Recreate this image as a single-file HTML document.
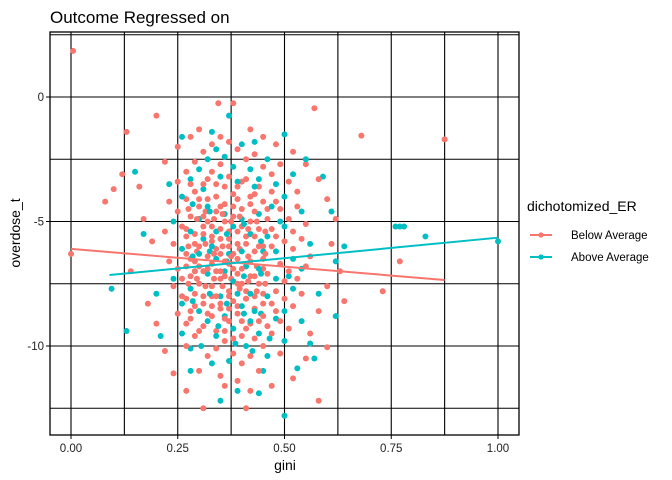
<!DOCTYPE html>
<html><head><meta charset="utf-8"><style>
body{margin:0;background:#fff;}
svg{display:block;font-family:"Liberation Sans",Arial,sans-serif;}
</style></head><body>
<svg id="chart" width="672" height="480">
<text x="50" y="23" font-size="17" fill="#000">Outcome Regressed on</text>
<g id="grid"></g>
<g id="pts"></g>
<g id="lines"></g>
<rect x="50" y="32" width="469" height="403" fill="none" stroke="#000" stroke-width="1.3"/>
<g id="axes"></g>
<text x="285" y="470" font-size="14" text-anchor="middle">gini</text>
<text transform="translate(20,233) rotate(-90)" font-size="14" text-anchor="middle">overdose_t</text>
<g>
<text x="527" y="211" font-size="14">dichotomized_ER</text>
<g><line x1="530" y1="235" x2="552" y2="235" stroke="#F8766D" stroke-width="2"/><circle cx="541" cy="235" r="2.6" fill="#F8766D"/><text x="571" y="239" font-size="11.5">Below Average</text></g>
<g><line x1="530" y1="257" x2="552" y2="257" stroke="#00BFC4" stroke-width="2"/><circle cx="541" cy="257" r="2.6" fill="#00BFC4"/><text x="571" y="261" font-size="11.5">Above Average</text></g>
</g>
</svg>
<script>
const xTicks=[0,0.25,0.5,0.75,1.0];
const xTickLabels=["0.00","0.25","0.50","0.75","1.00"];
const yTicks=[0,-5,-10];
const yTickLabels=["0","-5","-10"];
const yGrid=[2.5,0,-2.5,-5,-7.5,-10,-12.5];
const xGrid=[0,0.125,0.25,0.375,0.5,0.625,0.75,0.875,1.0];
const belowData=[[0.005,1.85],[0.0,-6.3],[0.13,-1.4],[0.2,-0.75],[0.08,-4.2],[0.10,-3.7],[0.12,-3.1],[0.875,-1.7],[0.68,-1.55],[0.57,-0.45],[0.73,-7.8],[0.77,-6.6],[0.64,-8.2],[0.6,-10.05],[0.58,-12.2],[0.31,-12.5],[0.41,-12.5],[0.38,-0.25],[0.345,-0.25],[0.16,-3.6],[0.17,-4.9],[0.19,-5.8],[0.14,-7.0],[0.18,-8.3],[0.2,-9.1],[0.22,-10.2],[0.24,-11.1],[0.27,-11.8],[0.22,-2.6],[0.25,-2.0],[0.28,-1.6],[0.30,-1.3],[0.42,-1.3],[0.45,-1.6],[0.48,-1.9],[0.52,-2.2],[0.55,-2.7],[0.58,-3.3],[0.6,-4.1],[0.62,-4.9],[0.61,-5.9],[0.63,-7.0],[0.6,-7.6],[0.58,-8.6],[0.56,-9.5],[0.55,-10.5],[0.52,-11.3],[0.47,-11.6],[0.42,-11.8],[0.36,-11.6],[0.3,-11.0],
[0.25,-3.4],[0.27,-3.0],[0.29,-2.6],[0.31,-2.2],[0.33,-1.9],[0.35,-1.6],[0.37,-1.8],[0.39,-2.1],[0.41,-2.5],[0.43,-2.3],[0.45,-2.8],[0.47,-3.1],[0.49,-2.7],[0.51,-3.4],[0.53,-3.8],[0.23,-4.2],[0.25,-4.6],[0.27,-4.1],[0.29,-3.8],[0.31,-3.5],[0.33,-3.0],[0.35,-2.7],[0.37,-3.2],[0.39,-3.6],[0.41,-3.3],[0.43,-3.9],[0.45,-4.2],[0.47,-3.8],[0.49,-4.5],[0.51,-4.9],[0.53,-4.4],[0.55,-5.1],[0.22,-5.4],[0.24,-5.9],[0.26,-5.2],[0.28,-4.8],[0.3,-4.4],[0.32,-4.1],[0.34,-4.6],[0.36,-4.3],[0.38,-4.8],[0.4,-4.5],[0.42,-5.0],[0.44,-5.3],[0.46,-4.9],[0.48,-5.6],[0.5,-5.8],[0.52,-6.1],[0.54,-5.7],[0.56,-6.4],[0.23,-6.6],[0.25,-6.9],[0.27,-6.3],[0.29,-5.9],[0.31,-5.5],[0.33,-5.2],[0.35,-5.7],[0.37,-5.4],[0.39,-5.9],[0.41,-5.6],[0.43,-6.2],[0.45,-6.5],[0.47,-6.0],[0.49,-6.7],[0.51,-7.0],[0.53,-7.3],[0.55,-6.8],[0.24,-7.6],[0.26,-8.0],[0.28,-7.2],[0.3,-6.8],[0.32,-6.4],[0.34,-6.1],[0.36,-6.6],[0.38,-6.3],[0.4,-6.9],[0.42,-7.2],[0.44,-7.5],[0.46,-7.1],[0.48,-7.8],[0.5,-8.1],[0.52,-8.4],[0.54,-7.9],[0.25,-8.7],[0.27,-9.1],[0.29,-8.4],[0.31,-8.0],[0.33,-7.6],[0.35,-7.3],[0.37,-7.8],[0.39,-7.5],[0.41,-8.1],[0.43,-8.5],[0.45,-8.8],[0.47,-8.3],[0.49,-9.0],[0.51,-9.3],[0.27,-10.0],[0.29,-9.6],[0.31,-9.2],[0.33,-8.8],[0.35,-8.5],[0.37,-9.0],[0.39,-8.7],[0.41,-9.3],[0.43,-9.7],[0.45,-10.0],[0.47,-9.5],[0.49,-10.3],[0.32,-10.4],[0.34,-10.1],[0.36,-9.8],[0.38,-10.3],[0.40,-10.7],[0.42,-10.4],[0.44,-11.0],[0.35,-11.2],[0.39,-11.4],
[0.30,-6.0],[0.32,-6.9],[0.34,-7.0],[0.36,-7.2],[0.38,-6.9],[0.33,-5.8],[0.35,-6.3],[0.37,-6.0],[0.39,-6.5],[0.4,-7.5],[0.3,-7.5],[0.32,-5.0],[0.36,-5.0],[0.4,-5.2],[0.34,-8.0],[0.38,-8.2],[0.42,-6.6],[0.28,-6.5],[0.26,-7.3],[0.44,-6.0],[0.31,-4.8],[0.35,-4.4],[0.39,-4.1],[0.43,-4.6],[0.29,-7.0],[0.33,-8.4],[0.37,-8.5],[0.41,-7.8],[0.45,-7.9],[0.27,-5.6],[0.47,-5.3],[0.34,-3.5],[0.38,-3.9],[0.42,-4.0],[0.36,-9.4],[0.4,-9.6],[0.28,-8.9],[0.46,-9.2],[0.5,-7.4],[0.48,-4.2],[0.52,-5.4],
[0.275,-4.5],[0.295,-4.9],[0.315,-4.6],[0.335,-4.9],[0.355,-4.7],[0.375,-5.0],[0.395,-4.8],[0.415,-5.3],[0.435,-5.0],[0.455,-5.4],
[0.27,-5.3],[0.29,-5.5],[0.31,-5.2],[0.33,-5.6],[0.35,-5.3],[0.37,-5.7],[0.39,-5.4],[0.41,-5.9],[0.43,-5.6],[0.45,-6.0],
[0.275,-6.0],[0.295,-6.2],[0.315,-5.9],[0.335,-6.3],[0.355,-6.0],[0.375,-6.4],[0.395,-6.1],[0.415,-6.4],[0.435,-6.8],[0.455,-6.3],
[0.27,-6.8],[0.29,-6.6],[0.31,-7.0],[0.33,-6.7],[0.35,-7.0],[0.37,-6.7],[0.39,-7.1],[0.41,-6.8],[0.43,-7.2],[0.45,-6.9],
[0.275,-7.5],[0.295,-7.3],[0.315,-7.6],[0.335,-7.3],[0.355,-7.6],[0.375,-7.3],[0.395,-7.7],[0.415,-7.4],[0.435,-7.8],[0.455,-7.5],
[0.27,-8.1],[0.29,-7.9],[0.31,-8.3],[0.33,-8.0],[0.35,-8.3],[0.37,-8.0],[0.39,-8.4],[0.41,-8.1],[0.43,-8.0],[0.45,-8.3],
[0.28,-3.5],[0.32,-3.3],[0.36,-3.6],[0.40,-3.4],[0.44,-3.6],[0.30,-4.1],[0.34,-4.0],[0.38,-4.4],[0.42,-4.3],[0.46,-4.5],
[0.28,-8.6],[0.32,-8.7],[0.36,-8.9],[0.40,-9.0],[0.44,-9.0],[0.30,-9.4],[0.34,-9.4],[0.38,-9.7],[0.42,-9.1],[0.48,-8.6]];
const aboveData=[[1.0,-5.8],[0.76,-5.2],[0.77,-5.2],[0.78,-5.2],[0.83,-5.6],[0.095,-7.7],[0.13,-9.4],[0.15,-3.0],[0.37,-0.75],[0.5,-12.8],[0.64,-6.0],[0.62,-8.8],[0.57,-10.5],[0.56,-9.9],[0.17,-5.5],[0.2,-7.9],[0.21,-9.6],[0.23,-3.5],[0.26,-1.6],[0.33,-1.4],[0.43,-1.8],[0.5,-1.5],[0.55,-2.5],[0.59,-3.2],[0.61,-4.6],[0.62,-6.6],[0.58,-7.9],[0.53,-10.9],[0.44,-11.9],[0.35,-12.2],[0.28,-11.0],
[0.26,-4.0],[0.28,-3.3],[0.3,-2.9],[0.32,-2.5],[0.34,-2.1],[0.36,-2.4],[0.38,-2.8],[0.4,-1.9],[0.42,-2.9],[0.44,-3.3],[0.46,-2.5],[0.48,-3.5],[0.5,-4.0],[0.52,-3.1],[0.54,-4.6],[0.24,-5.0],[0.26,-6.1],[0.28,-5.4],[0.3,-4.9],[0.32,-4.4],[0.34,-5.4],[0.36,-4.7],[0.38,-5.2],[0.4,-4.9],[0.42,-5.5],[0.44,-4.7],[0.46,-5.6],[0.48,-6.2],[0.5,-5.2],[0.52,-6.5],[0.54,-6.9],[0.56,-5.9],[0.24,-7.3],[0.26,-8.3],[0.28,-7.7],[0.3,-6.3],[0.32,-7.1],[0.34,-6.5],[0.36,-7.0],[0.38,-7.4],[0.4,-6.2],[0.42,-7.9],[0.44,-6.9],[0.46,-8.0],[0.48,-7.3],[0.5,-8.6],[0.52,-7.7],[0.54,-9.0],[0.26,-9.5],[0.28,-10.1],[0.3,-8.6],[0.32,-9.0],[0.34,-9.6],[0.36,-8.8],[0.38,-9.3],[0.4,-8.4],[0.42,-9.0],[0.44,-9.5],[0.46,-10.4],[0.48,-8.9],[0.5,-9.8],[0.33,-10.7],[0.37,-10.6],[0.41,-10.0],[0.45,-11.0],[0.39,-11.8],[0.31,-3.7],[0.35,-3.2],[0.39,-3.4],[0.43,-3.6],[0.47,-4.4],[0.33,-6.0],[0.37,-6.3],[0.41,-6.8],[0.45,-6.2],[0.35,-8.0],[0.39,-7.9],[0.43,-8.6],[0.29,-7.0],[0.31,-5.7],[0.49,-5.0],[0.51,-7.2],
[0.285,-4.3],[0.325,-4.6],[0.365,-5.5],[0.405,-5.1],[0.445,-5.8],[0.285,-6.4],[0.325,-6.2],[0.365,-6.6],[0.405,-7.2],[0.445,-7.1],[0.285,-8.2],[0.325,-7.9],[0.365,-8.3],[0.405,-8.7],[0.445,-8.7],[0.305,-10.0],[0.345,-9.2],[0.385,-9.9],[0.425,-10.2],[0.465,-9.7]];
const belowLine=[[0.0,-6.1],[0.875,-7.35]];
const aboveLine=[[0.09,-7.15],[1.0,-5.65]];
const X=v=>71+427*v, Y=v=>97-24.9*v;
const NS="http://www.w3.org/2000/svg";
function mk(tag,attrs,parent){const e=document.createElementNS(NS,tag);for(const k in attrs)e.setAttribute(k,attrs[k]);parent.appendChild(e);return e;}
const grid=document.getElementById('grid');
xGrid.forEach(v=>{const l=mk('line',{x1:X(v),x2:X(v),y1:32,y2:435,stroke:'#000','stroke-width':1.1},grid);

});
yGrid.forEach(v=>{const l=mk('line',{x1:50,x2:519,y1:Y(v),y2:Y(v),stroke:'#000','stroke-width':1.1},grid);

});
const axes=document.getElementById('axes');
xTicks.forEach((v,i)=>{mk('line',{x1:X(v),x2:X(v),y1:435,y2:439,stroke:'#000'},axes);
const t=mk('text',{x:X(v),y:452,'font-size':11.5,'text-anchor':'middle',fill:'#222'},axes);t.textContent=xTickLabels[i];

});
yTicks.forEach((v,i)=>{mk('line',{x1:46,x2:50,y1:Y(v),y2:Y(v),stroke:'#000'},axes);
const t=mk('text',{x:44,y:Y(v)+4,'font-size':11.5,'text-anchor':'end',fill:'#222'},axes);t.textContent=yTickLabels[i];

});
const pts=document.getElementById('pts');
const all=[];
belowData.forEach((d,i)=>all.push([d,'#F8766D','point-below',i]));
aboveData.forEach((d,i)=>all.push([d,'#00BFC4','point-above',i]));
all.sort((a,b)=>(a[3]*7%13)-(b[3]*7%13));
all.forEach(p=>{const c=mk('circle',{cx:X(p[0][0]),cy:Y(p[0][1]),r:3,fill:p[1]},pts);

});
const lines=document.getElementById('lines');
[[belowLine,'#F8766D','regression-line-below'],[aboveLine,'#00BFC4','regression-line-above']].forEach(s=>{
const l=mk('line',{x1:X(s[0][0][0]),y1:Y(s[0][0][1]),x2:X(s[0][1][0]),y2:Y(s[0][1][1]),stroke:s[1],'stroke-width':2},lines);

});
</script>
</body></html>
